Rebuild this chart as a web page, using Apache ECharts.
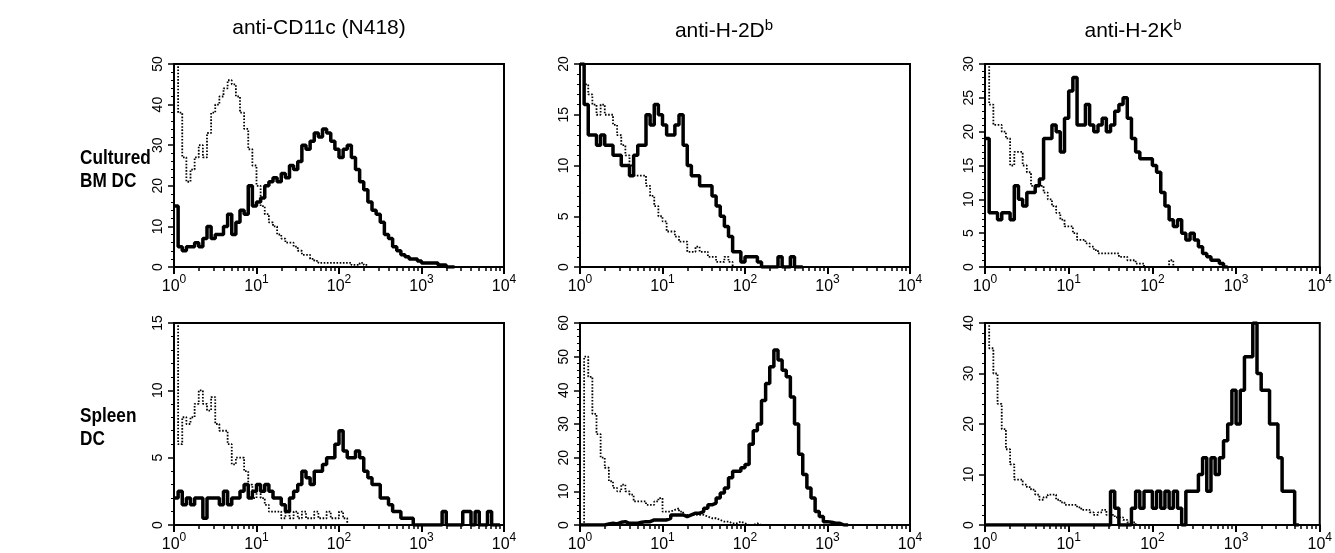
<!DOCTYPE html>
<html><head><meta charset="utf-8">
<script src="https://cdn.jsdelivr.net/npm/echarts@6/dist/echarts.min.js"></script>
<style>html,body{margin:0;padding:0;background:#fff}#c{width:1335px;height:553px}</style>
</head><body><div id="c"></div>
<script>
// histogram channel width in decades (x axis is log10 fluorescence, 10^0..10^4)
const BIN = 0.05;
const columnTitles = [['anti-CD11c (N418)', ''], ['anti-H-2D', 'b'], ['anti-H-2K', 'b']];
const rowLabels = ['Cultured\nBM DC', 'Spleen\nDC'];
const xTickExponents = [0, 1, 2, 3, 4];
const yMax = [50, 20, 30, 15, 60, 40];
const yInterval = [10, 5, 5, 5, 10, 10];

// Cultured BM DC
const bmCD11cStained = [15,5,4,5,5,6,5,7,10,7,8,8,10,13,8,11,14,13,20,15,16,17,20,21,22,21,23,22,25,24,26,30,29,31,33,32,34,33,31,29,27,29,30,27,24,21,19,16,14,13,11,8,7,5,4,3,2.5,2,2,1.5,1,1,1,1,0.5,0.5,0,0];
const bmCD11cControl = [50,38,27,21,24,27,30,27,33,38,40,42,44,46,45,42,38,34,29,25,20,15,13,11,10,8,7,6,6,5,4,3,3,2,1.5,1,1,1,1,1,1,1,1,0.5,0.5,1,0.5,0,0,0,0,0,0,0,0,0,0,0,0,0,0];
const bmH2DbStained = [20,16,13,13,12,13,12,12,11,11,10,10,9,11,12,12,15,14,16,15,14,13,13,14,15,12,10,9,9,8,8,8,7,6,5,4,3,1.5,1.5,0.5,1,1,1,0.5,0,0,0,0,1,0,0,1,0,0];
const bmH2DbControl = [20,18,17,16,15,16,15,15,14,13,12,11,10,9,9,9,8,7,6,5,4.5,3.5,3.5,3,2.5,2.5,1.5,1.5,2,1.5,1.5,1,1,0.5,0.5,1,0.5,0,0,0,0,0,0,0,0];
const bmH2KbStained = [19,8,8,7,8,8,7,12,10,9,11,11,12,13,19,19,21,20,17,22,26,28,21,21,24,21,20,21,22,20,21,23,24,25,22,19,17,16,16,16,15,14,11,9,7,6,7,5,4,5,4,3,2,1.5,1,1,0.5,0];
const bmH2KbControl = [30,24,21,21,20,19,15,17,17,15,14,12,12,12,11,10,9,8,7,6,6,5,4,4,3.5,3,2.5,2,2,2,2,2,1.5,1.5,1,1,0.5,0.5,0,0,0,0,0,0,1,0,0,0,0,0,0,0,0,0,0,0,0];
// Spleen DC
const spCD11cStained = [2,2.5,1.5,2,1.5,2,2,0.5,2,2,2,1.5,2.5,1.5,2,2,2.5,3,2,2.5,3,2.5,3,2.5,2,2,1.5,1,2,2.5,3,4,3.5,3,4,4,4.5,5,5,6,7,5.5,5,5,5.5,5,4,3.5,3,3,2,2,1.5,1,1,0.5,0.5,0.5,0,0,0,0,0,0,0,1,0,0,0,0,1,1,0,1,0,0,1,0,0];
const spCD11cControl = [15,6,8,7.5,8,9,10,9,8.5,9.5,7.5,7,7,6,4.5,5,5,4,3,2,2.5,2,1.5,1,1,1,0.5,1,0.5,1,0.5,1,0.5,0.5,1,0.5,0.5,1,0.5,0.5,1,0.5,0,0,0,0,0,0,0,0,0,0,0,0,0];
const spH2DbStained = [0,0,0,0,0,0,0.3,0.5,0.3,0.8,1,0.5,0.5,0.5,0.8,1,1,1.5,1.5,1.5,1.5,2,3,3,3,2.5,3,3.5,3.5,4,5,6,6.5,8,9.5,11,14,16,16,17,18,24,28,30,37,42,47,52,49,46,44,38,30,21,15,11,8,4,2.5,1,0.8,0.5,0.5,0,0];
const spH2DbControl = [0,50,44,33,27,20,17,13,11,10,12,10,9,7,7,7,6,6,7,8,4,4,4.5,5,4,3,3,3,3,3,2.5,2,2,1.5,1,1,0.5,0.5,1,0.5,0,0,0.5,0,0,0,0,0,0,0,0,0,0,0,0,0,0,0,0,0,0];
const spH2KbStained = [0,0,0,0,0,0,0,0,0,0,0,0,0,0,0,0,0,0,0,0,0,0,0,0,0,0,0,0,0,0,6.7,3.3,0,0,0,3.3,6.7,3.3,6.7,6.7,3.3,6.7,3.3,6.7,3.3,6.7,3.3,0,6.7,6.7,6.7,10,13.3,6.7,13.3,10,13.3,16.7,20,26.7,20,26.7,33.3,33.3,40,30,26.7,26.7,20,20,13.3,6.7,6.7,6.7,0];
const spH2KbControl = [40,35,30,24,19,15,12,9,9,8,7.5,7,6,5,5.5,6,6,5,4.5,4,4,4,3.5,3,3,2.5,2,2.5,3,2,2,1.5,1.5,1,0.5,0.5,0,0,0,0,0,0,0,0,0,0,0,0,0,0,0,0,0,0,0,0,0,0,0,0,0,0,0,0,0,0,0,0,0,0,0,0,0,0,0];

const stainedSeries = [bmCD11cStained, bmH2DbStained, bmH2KbStained, spCD11cStained, spH2DbStained, spH2KbStained];
const controlSeries = [bmCD11cControl, bmH2DbControl, bmH2KbControl, spCD11cControl, spH2DbControl, spH2KbControl];

// layout
const colLeft = [174, 580, 985];
const colWidth = [330, 330, 338];
const rowTop = [64, 323];
const gridHeight = 203;
const FONT = "'Liberation Sans', Arial, Helvetica, sans-serif";

// minor tick positions on the log10 axis (2..9 in each decade)
const minorTicks = [];
for (let d = 0; d < 4; d++) for (let k = 1; k <= 9; k++) minorTicks.push(d + Math.log10(k));
minorTicks.push(4);

function toPoints(arr) {
  const pts = arr.map((v, i) => [i * BIN, v]);
  pts.push([arr.length * BIN, arr[arr.length - 1]]);
  return pts;
}

const grids = [], xAxes = [], yAxes = [], series = [];
for (let p = 0; p < 6; p++) {
  const r = Math.floor(p / 3), c = p % 3;
  grids.push({left: colLeft[c], top: rowTop[r], width: colWidth[c], height: gridHeight,
    show: true, borderColor: '#000', borderWidth: 2, backgroundColor: 'transparent', containLabel: false});
  xAxes.push({gridIndex: p, type: 'value', min: 0, max: 4, position: 'bottom',
    axisLine: {show: true, onZero: false, lineStyle: {color: '#000', width: 2}},
    axisTick: {show: true, customValues: minorTicks, length: 4, lineStyle: {color: '#000', width: 1.5}},
    axisLabel: {show: true, customValues: xTickExponents, margin: 7, color: '#000', fontFamily: FONT,
      formatter: v => '{b|10}{s|' + v + '}',
      rich: {b: {fontSize: 16, fontFamily: FONT, color: '#000', verticalAlign: 'bottom'},
             s: {fontSize: 12, fontFamily: FONT, color: '#000', verticalAlign: 'bottom', padding: [0, 0, 9, 0]}}},
    splitLine: {show: false}});
  xAxes.push({gridIndex: p, type: 'value', min: 0, max: 4, position: 'bottom',
    axisLine: {show: false},
    axisTick: {show: true, customValues: xTickExponents, length: 7, lineStyle: {color: '#000', width: 2}},
    axisLabel: {show: false}, splitLine: {show: false}});
  yAxes.push({gridIndex: p, type: 'value', min: 0, max: yMax[p], interval: yInterval[p],
    axisLine: {show: true, lineStyle: {color: '#000', width: 2}},
    axisTick: {show: true, length: 6, lineStyle: {color: '#000', width: 1.5}},
    minorTick: {show: true, splitNumber: 5, length: 3, lineStyle: {color: '#000', width: 1}},
    axisLabel: {rotate: 90, margin: 9, fontSize: 14, color: '#000', fontFamily: FONT},
    splitLine: {show: false}, minorSplitLine: {show: false}});
  series.push({type: 'line', xAxisIndex: 2 * p, yAxisIndex: p, step: 'end', showSymbol: false,
    data: toPoints(controlSeries[p]), lineStyle: {color: '#000', width: 1.8, type: [1.6, 1.6]}, z: 3, silent: true});
  series.push({type: 'line', xAxisIndex: 2 * p, yAxisIndex: p, step: 'end', showSymbol: false,
    data: toPoints(stainedSeries[p]), lineStyle: {color: '#000', width: 3.5}, z: 4, silent: true});
}

const titleCenter = [319, 724, 1133];
const graphics = [];
columnTitles.forEach((t, i) => {
  graphics.push({type: 'text', x: titleCenter[i], y: 18,
    style: {text: '{a|' + t[0] + '}' + (t[1] ? '{s|' + t[1] + '}' : ''), align: 'center', verticalAlign: 'top',
      rich: {a: {fontSize: 21, fontFamily: FONT, fill: '#000', verticalAlign: 'bottom'},
             s: {fontSize: 15, fontFamily: FONT, fill: '#000', verticalAlign: 'bottom', padding: [0, 0, 9, 0]}}}});
});
const rowLabelTop = [147, 405];
rowLabels.forEach((t, i) => {
  graphics.push({type: 'text', x: 80, y: rowLabelTop[i], scaleX: 0.86,
    style: {text: t, font: 'bold 20px ' + FONT, fill: '#000', lineHeight: 23}});
});

const chart = echarts.init(document.getElementById('c'));
chart.setOption({animation: false, backgroundColor: '#fff', grid: grids, xAxis: xAxes, yAxis: yAxes, series: series, graphic: graphics});
</script></body></html>
